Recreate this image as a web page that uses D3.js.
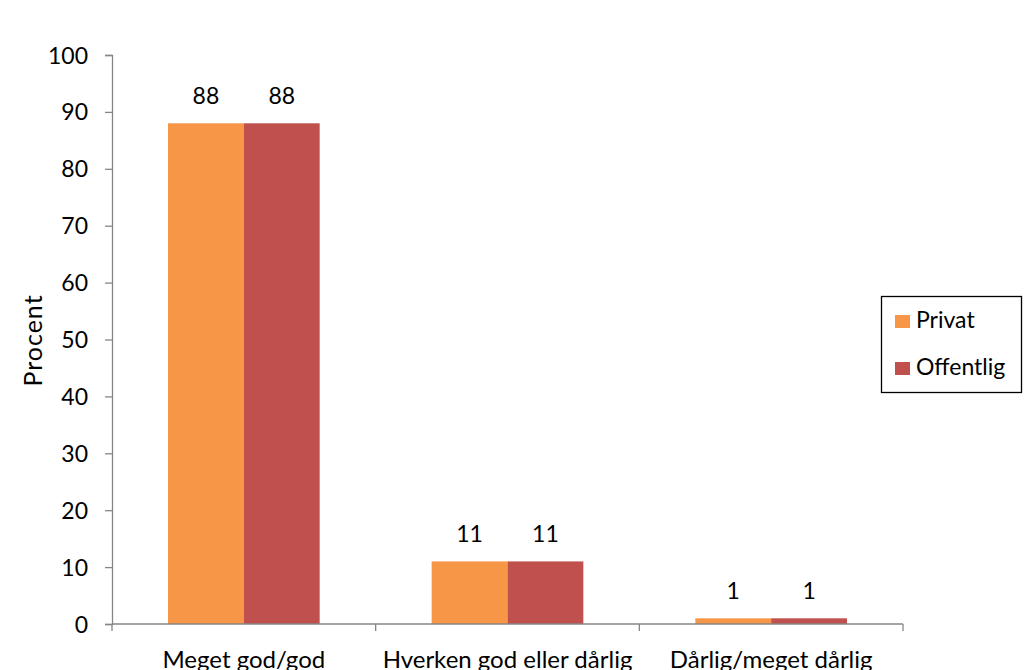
<!DOCTYPE html>
<html>
<head>
<meta charset="utf-8">
<script src="https://cdn.jsdelivr.net/npm/d3@7"></script>
<style>
  html, body { margin: 0; padding: 0; background: #fff; }
  svg { display: block; font-family: Lato, "Open Sans", sans-serif; }
</style>
</head>
<body>
<svg id="chart" width="1029" height="670"></svg>
<script>
// Survey answers, in percent, per sector
const categories = ["Meget god/god", "Hverken god eller dårlig", "Dårlig/meget dårlig"];
const seriesNames = ["Privat", "Offentlig"];
const privatValues = [88, 11, 1];
const offentligValues = [88, 11, 1];
const yTicks = [0, 10, 20, 30, 40, 50, 60, 70, 80, 90, 100];
const colors = ["#F79646", "#C0504D"];

const seriesValues = [privatValues, offentligValues];
const rows = categories.map((c, i) => ({
  category: c,
  values: seriesNames.map((s, j) => ({ series: s, value: seriesValues[j][i], color: colors[j] }))
}));

const svg = d3.select("#chart");
const plotLeft = 112, plotRight = 903, plotTop = 55, plotBottom = 624;
const fontSize = 23;

const x = d3.scaleBand().domain(categories).range([plotLeft, plotRight]).padding(0);
// bar pair sits in the middle of each category band
const groupPad = 56;
const inner = d3.scaleBand().domain(seriesNames)
  .range([groupPad, x.bandwidth() - groupPad]).padding(0);

const y = d3.scaleLinear().domain([0, 100]).range([plotBottom, plotTop]);

const axisColor = "#868686";

// Y axis
const yAxis = svg.append("g")
  .attr("transform", `translate(${plotLeft},0)`)
  .call(d3.axisLeft(y).tickValues(yTicks).tickSize(7).tickPadding(17).tickFormat(d3.format("d")));
yAxis.select(".domain").attr("stroke", axisColor).attr("stroke-width", 1.3);
yAxis.selectAll(".tick line").attr("stroke", axisColor).attr("stroke-width", 1.3);
yAxis.selectAll(".tick text").attr("font-size", fontSize).attr("fill", "#000")
  .attr("font-family", "Lato, sans-serif").attr("dy", "0.35em");

// Bars
const groups = svg.append("g").selectAll("g").data(rows).join("g")
  .attr("transform", d => `translate(${x(d.category)},0)`);
groups.selectAll("rect").data(d => d.values).join("rect")
  .attr("x", d => inner(d.series))
  .attr("width", inner.bandwidth())
  .attr("y", d => y(d.value))
  .attr("height", d => y(0) - y(d.value))
  .attr("fill", d => d.color);

// Value labels
groups.selectAll("text").data(d => d.values).join("text")
  .attr("x", d => inner(d.series) + inner.bandwidth() / 2)
  .attr("y", d => y(d.value) - 19)
  .attr("text-anchor", "middle")
  .attr("font-size", fontSize)
  .attr("fill", "#000")
  .text(d => d.value);

// X axis with tick marks at band boundaries
const xAxisG = svg.append("g").attr("transform", `translate(0,${plotBottom})`);
xAxisG.append("line")
  .attr("x1", plotLeft).attr("x2", plotRight).attr("y1", 0).attr("y2", 0)
  .attr("stroke", axisColor).attr("stroke-width", 1.3);
const boundaries = categories.map(c => x(c)).concat([x(categories[categories.length - 1]) + x.bandwidth()]);
xAxisG.selectAll("line.tick").data(boundaries).join("line")
  .attr("class", "tick")
  .attr("x1", d => d).attr("x2", d => d).attr("y1", 0).attr("y2", 7)
  .attr("stroke", axisColor).attr("stroke-width", 1.3);
xAxisG.selectAll("text").data(categories).join("text")
  .attr("x", d => x(d) + x.bandwidth() / 2)
  .attr("y", 44)
  .attr("text-anchor", "middle")
  .attr("font-size", 24)
  .attr("fill", "#000")
  .text(d => d);

// Y axis title
svg.append("text")
  .attr("transform", `translate(42,${(plotTop + plotBottom) / 2 + 1}) rotate(-90)`)
  .attr("text-anchor", "middle")
  .attr("font-size", 25)
  .attr("letter-spacing", 1)
  .attr("fill", "#000")
  .text("Procent");

// Legend
const legend = svg.append("g");
legend.append("rect")
  .attr("x", 881.5).attr("y", 296.5).attr("width", 140).attr("height", 96)
  .attr("fill", "#fff").attr("stroke", "#000").attr("stroke-width", 1.3);
const items = legend.selectAll("g.item").data(seriesNames).join("g")
  .attr("class", "item")
  .attr("transform", (d, i) => `translate(895,${315 + i * 47})`);
items.append("rect").attr("width", 15).attr("height", 13).attr("fill", (d, i) => colors[i]);
items.append("text").attr("x", 21).attr("y", 13).attr("font-size", fontSize).attr("fill", "#000").text(d => d);
</script>
</body>
</html>
